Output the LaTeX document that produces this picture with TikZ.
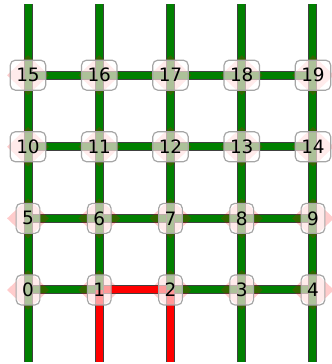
\documentclass[tikz,border=0pt]{standalone}
\usepackage{fontspec}
\setmainfont{DejaVu Sans}
\usetikzlibrary{shapes.geometric,backgrounds}
\tikzset{lbl/.style={draw=black!35,line width=1.2bp,fill=white,fill opacity=0.6,text opacity=1,
    rounded corners=5bp,minimum height=30bp,minimum width=23bp,inner xsep=6bp,inner ysep=0pt,
    font=\fontsize{18.5}{20}\selectfont},
  dia/.style={diamond,fill=red,fill opacity=0.2,minimum width=42bp,minimum height=40bp,inner sep=0pt},
  wire/.style={draw=black!75,line width=1bp,double distance=7bp},
  ok/.style={wire,double=green!50!black},
  bad/.style={wire,double=red}}

\begin{document}
\begin{tikzpicture}[x=71.25bp,y=71.6bp]
\useasboundingbox (-0.393,-1.034) rectangle (4.253,4.050);
% grid nodes
\foreach \i in {0,...,19}{
  \pgfmathtruncatemacro{\c}{mod(\i,5)}
  \pgfmathtruncatemacro{\r}{div(\i,5)}
  \node[dia] (d\i) at (\c,\r) {};
}
\foreach \i in {0,...,19}{
  \pgfmathtruncatemacro{\c}{mod(\i,5)}
  \pgfmathtruncatemacro{\r}{div(\i,5)}
  \node[lbl] (n\i) at (\c,\r) {\i};
}
\foreach \c in {0,...,4}{
  \coordinate (b\c) at (\c,-1);
  \coordinate (t\c) at (\c,4);
}
\begin{scope}[on background layer]
% horizontal edges
\foreach \r in {0,...,3}
  \foreach \c in {0,...,3}{
    \pgfmathtruncatemacro{\a}{5*\r+\c}
    \pgfmathtruncatemacro{\b}{\a+1}
    \ifnum\a=1 \draw[bad] (n\a.center) -- (n\b.center);
    \else \draw[ok] (n\a.center) -- (n\b.center); \fi
  }
% vertical edges
\foreach \c in {0,...,4}{
  \ifnum\c=1 \draw[bad] (b\c) -- (n\c.center);
  \else\ifnum\c=2 \draw[bad] (b\c) -- (n\c.center);
  \else \draw[ok] (b\c) -- (n\c.center); \fi\fi
  \foreach \r in {0,...,2}{
    \pgfmathtruncatemacro{\a}{5*\r+\c}
    \pgfmathtruncatemacro{\b}{\a+5}
    \draw[ok] (n\a.center) -- (n\b.center);
  }
  \pgfmathtruncatemacro{\a}{15+\c}
  \draw[ok] (n\a.center) -- (t\c);
}
\end{scope}
\end{tikzpicture}
\end{document}
